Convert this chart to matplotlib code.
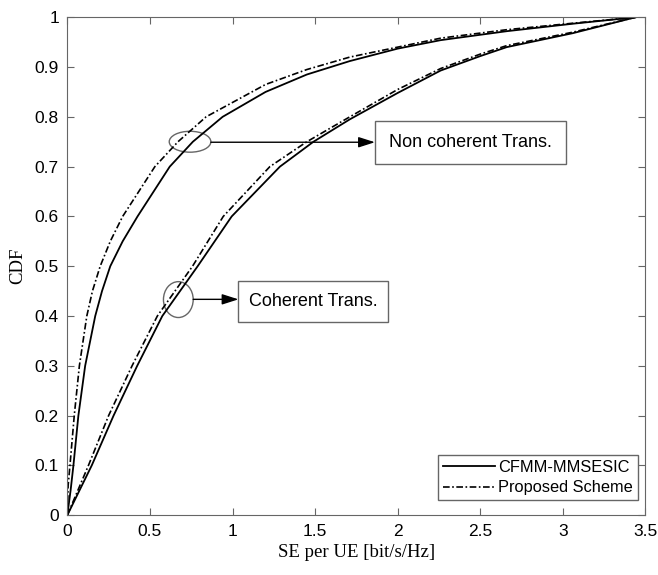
import matplotlib.pyplot as plt
from matplotlib.patches import Ellipse, Rectangle

# CDF curves (x = SE per UE, y = CDF)
nc_cfmm_x = [0, 0.02, 0.037, 0.067, 0.108, 0.169, 0.21, 0.26, 0.335, 0.425, 0.62, 0.76, 0.94, 1.2, 1.45, 1.71, 2.0, 2.26, 2.66, 3.06, 3.44]
nc_cfmm_y = [0, 0.05, 0.1, 0.2, 0.3, 0.4, 0.45, 0.5, 0.55, 0.6, 0.7, 0.75, 0.8, 0.85, 0.885, 0.912, 0.937, 0.954, 0.972, 0.987, 1.0]

nc_prop_x = [0, 0.005, 0.016, 0.042, 0.073, 0.118, 0.152, 0.199, 0.26, 0.335, 0.53, 0.67, 0.84, 1.2, 1.45, 1.71, 2.0, 2.26, 2.66, 3.06, 3.44]
nc_prop_y = [0, 0.06, 0.1, 0.2, 0.3, 0.4, 0.45, 0.5, 0.55, 0.6, 0.7, 0.75, 0.8, 0.865, 0.895, 0.92, 0.94, 0.958, 0.975, 0.988, 1.0]

c_cfmm_x = [0, 0.148, 0.28, 0.423, 0.575, 0.789, 0.995, 1.287, 1.49, 1.71, 2.0, 2.26, 2.5, 2.66, 3.06, 3.44]
c_cfmm_y = [0, 0.1, 0.2, 0.3, 0.4, 0.5, 0.6, 0.7, 0.75, 0.795, 0.848, 0.893, 0.922, 0.94, 0.968, 1.0]

c_prop_x = [0, 0.128, 0.25, 0.392, 0.545, 0.758, 0.944, 1.226, 1.45, 1.71, 2.0, 2.26, 2.5, 2.66, 3.06, 3.44]
c_prop_y = [0, 0.1, 0.2, 0.3, 0.4, 0.5, 0.6, 0.7, 0.75, 0.80, 0.855, 0.897, 0.926, 0.943, 0.97, 1.0]

labels = ["CFMM-MMSESIC", "Proposed Scheme"]
xticks = [0, 0.5, 1, 1.5, 2, 2.5, 3, 3.5]
yticks = [0, 0.1, 0.2, 0.3, 0.4, 0.5, 0.6, 0.7, 0.8, 0.9, 1]

sans = "Liberation Sans"
serif = "Liberation Serif"
grey = "#666666"
dashdot = (0, (4, 1.5, 1, 1.5))

fig = plt.figure(figsize=(6.58, 5.75), dpi=100)
ax = fig.add_axes([0.1023, 0.104, 0.8787, 0.866])

ax.plot(nc_cfmm_x, nc_cfmm_y, color="black", lw=1.3, ls="-", label=labels[0])
ax.plot(nc_prop_x, nc_prop_y, color="black", lw=1.2, ls=dashdot, label=labels[1])
ax.plot(c_cfmm_x, c_cfmm_y, color="black", lw=1.3, ls="-")
ax.plot(c_prop_x, c_prop_y, color="black", lw=1.2, ls=dashdot)

ax.set_xlim(0, 3.5)
ax.set_ylim(0, 1)
ax.set_xticks(xticks)
ax.set_xticklabels([f"{t:g}" for t in xticks], fontfamily=sans, fontsize=12.5)
ax.set_yticks(yticks)
ax.set_yticklabels([f"{t:g}" for t in yticks], fontfamily=sans, fontsize=12.5)
ax.tick_params(direction="in", top=True, right=True, length=5, color=grey, pad=6)
for s in ax.spines.values():
    s.set_color(grey)

ax.set_xlabel("SE per UE [bit/s/Hz]", fontfamily=serif, fontsize=13.5, labelpad=4)
ax.set_ylabel("CDF", fontfamily=serif, fontsize=13.5, labelpad=6)

# annotations
ax.add_patch(Ellipse((0.743, 0.75), 0.252, 0.042, fill=False, ec=grey, lw=1))
ax.add_patch(Ellipse((0.672, 0.433), 0.18, 0.072, fill=False, ec=grey, lw=1))

arrow = dict(arrowstyle="-|>,head_length=1.0,head_width=0.32", color="black", lw=1,
             shrinkA=0, shrinkB=0)
ax.annotate("", xy=(1.862, 0.749), xytext=(0.869, 0.749), arrowprops=arrow)
ax.annotate("", xy=(1.036, 0.4335), xytext=(0.762, 0.4335), arrowprops=arrow)

ax.add_patch(Rectangle((1.862, 0.705), 1.155, 0.086, fill=True, fc="white", ec=grey, lw=1))
ax.text(2.4395, 0.748, "Non coherent Trans.", ha="center", va="center",
        fontfamily=sans, fontsize=13)
ax.add_patch(Rectangle((1.036, 0.3876), 0.907, 0.0824, fill=True, fc="white", ec=grey, lw=1))
ax.text(1.4895, 0.429, "Coherent Trans.", ha="center", va="center",
        fontfamily=sans, fontsize=13)

leg = ax.legend(loc="lower right", bbox_to_anchor=(0.987, 0.03), borderaxespad=0,
                prop={"family": sans, "size": 11.8}, handlelength=3.2,
                fancybox=False, framealpha=1, edgecolor=grey,
                borderpad=0.3, labelspacing=0.35, handletextpad=0.2)
leg.get_frame().set_linewidth(1)

fig.savefig("out.png", dpi=100)
